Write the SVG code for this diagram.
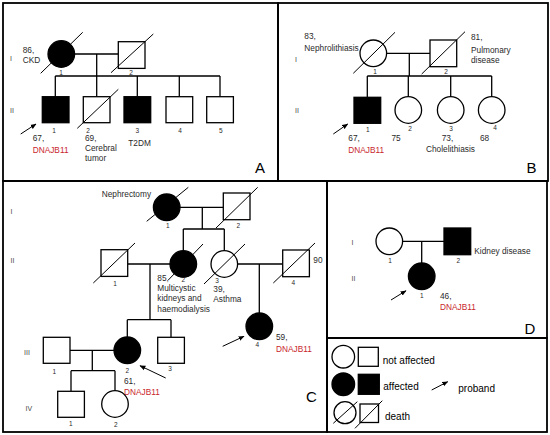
<svg xmlns="http://www.w3.org/2000/svg" width="550" height="435" viewBox="0 0 550 435">
<defs>
<marker id="ah" viewBox="0 0 10 10" refX="9" refY="5" markerWidth="6" markerHeight="6" orient="auto" markerUnits="userSpaceOnUse"><path d="M0,1 L10,5 L0,9 z" fill="#000"/></marker>
<style>
.ln{stroke:#000;stroke-width:1.3;fill:none}
.sym{stroke:#000;stroke-width:1.3;fill:#fff}
.aff{fill:#000}
.sl{stroke:#000;stroke-width:1;fill:none}
.ar{stroke:#000;stroke-width:1;fill:none;marker-end:url(#ah)}
.panel{fill:none;stroke:#000;stroke-width:1.8}
text{font-family:"Liberation Sans",Arial,sans-serif;fill:#2a2a2a}
.t{font-size:8.3px}
.red{fill:#c8262c}
.n{font-size:6.5px;text-anchor:middle}
.g{font-size:7px;fill:#444}
.lbl{font-size:15px;fill:#000}
.leg{font-size:10px;fill:#000}
</style>
</defs>
<rect width="550" height="435" fill="#fff"/>
<g id="panels">
<rect class="panel" x="3" y="3" width="275" height="178"/>
<rect class="panel" x="278" y="3" width="270" height="178"/>
<rect class="panel" x="3" y="181" width="324" height="251"/>
<rect class="panel" x="327" y="181" width="220" height="157"/>
<rect class="panel" x="327" y="338" width="220" height="94"/>
</g>
<g id="connectors">
<path class="ln" d="M74.6,54H118.3 M96.7,54V76 M55.3,76H220 M55.3,76V96.7 M96.7,76V96.7 M137.3,76V96.7 M179.3,76V96.7 M220,76V96.7"/>
<path class="ln" d="M386.6,53.3H430 M409.3,53.3V76 M367.3,76H491.7 M367.3,76V97.3 M408.3,76V96.7 M450.7,76V96.7 M491.7,76V96.7"/>
<path class="ln" d="M180,207.3H223.3 M202.3,207.3V229 M183.3,229H224.3 M183.3,229V250.7 M224.3,229V250.7"/>
<path class="ln" d="M127.7,264H170 M150,264V319.7 M127.3,319.7H171 M127.3,319.7V337 M171,319.7V337.3"/>
<path class="ln" d="M237.6,264H282.7 M259.3,264V313"/>
<path class="ln" d="M70,350.3H114 M92.3,350.3V370.7 M71,370.7H115 M71,370.7V391.3 M115,370.7V390.7"/>
<path class="ln" d="M402.6,241.3H444 M421.7,241.3V263"/>
</g>
<g id="A-labels">
<text class="g" x="10" y="61">I</text>
<text class="g" x="10" y="113">II</text>
<text class="lbl" x="255" y="173">A</text>
</g>
<g id="A-I-1">
<circle class="sym aff" cx="61.3" cy="54" r="13.3"/>
<line class="sl" x1="40.7" y1="73.3" x2="82.7" y2="32.3"/>
<text class="n" x="61" y="75">1</text>
<text class="t" x="22.7" y="52.5">86,</text>
<text class="t" x="22.7" y="63">CKD</text>
</g>
<g id="A-I-2">
<rect class="sym" x="118.3" y="41.7" width="26.7" height="26.7"/>
<line class="sl" x1="111" y1="72.7" x2="153.3" y2="34"/>
<text class="n" x="131" y="75">2</text>
</g>
<g id="A-II-1">
<rect class="sym aff" x="42.3" y="96.7" width="26.7" height="26"/>
<text class="n" x="54" y="133">1</text>
<line class="ar" x1="20.7" y1="134" x2="36" y2="124"/>
<text class="t" x="32.7" y="141">67,</text>
<text class="t red" x="32.7" y="152.7">DNAJB11</text>
</g>
<g id="A-II-2">
<rect class="sym" x="83.3" y="96.7" width="26.7" height="26"/>
<line class="sl" x1="77.3" y1="128.3" x2="118.3" y2="89.3"/>
<text class="n" x="88" y="133">2</text>
<text class="t" x="85" y="141">69,</text>
<text class="t" x="85" y="151">Cerebral</text>
<text class="t" x="85" y="161">tumor</text>
</g>
<g id="A-II-3">
<rect class="sym aff" x="124" y="96.7" width="26.7" height="26"/>
<text class="n" x="137.3" y="133">3</text>
<text class="t" x="128.3" y="146">T2DM</text>
</g>
<g id="A-II-4">
<rect class="sym" x="166" y="96.7" width="26.7" height="26"/>
<text class="n" x="180" y="133">4</text>
</g>
<g id="A-II-5">
<rect class="sym" x="206.7" y="96.7" width="26.7" height="26"/>
<text class="n" x="220.7" y="133">5</text>
</g>
<g id="B-labels">
<text class="g" x="295" y="62">I</text>
<text class="g" x="295" y="113">II</text>
<text class="lbl" x="526.5" y="173">B</text>
</g>
<g id="B-I-1">
<circle class="sym" cx="373.3" cy="53.3" r="13.3"/>
<line class="sl" x1="353.3" y1="73.3" x2="395" y2="32.3"/>
<text class="n" x="375" y="74">1</text>
<text class="t" x="304.3" y="39">83,</text>
<text class="t" x="304.3" y="50.5">Nephrolithiasis</text>
</g>
<g id="B-I-2">
<rect class="sym" x="430" y="40" width="26.7" height="26.7"/>
<line class="sl" x1="421.7" y1="74" x2="465" y2="31.7"/>
<text class="n" x="446" y="74">2</text>
<text class="t" x="471" y="40">81,</text>
<text class="t" x="471" y="52.5">Pulmonary</text>
<text class="t" x="471" y="63">disease</text>
</g>
<g id="B-II-1">
<rect class="sym aff" x="354" y="97.3" width="26.7" height="26"/>
<text class="n" x="367.7" y="131.5">1</text>
<line class="ar" x1="333.3" y1="134" x2="347.7" y2="124"/>
<text class="t" x="348.3" y="141">67,</text>
<text class="t red" x="348.3" y="153">DNAJB11</text>
</g>
<g id="B-II-2">
<circle class="sym" cx="408.3" cy="110" r="13.3"/>
<text class="n" x="410" y="131">2</text>
<text class="t" x="391.5" y="141">75</text>
</g>
<g id="B-II-3">
<circle class="sym" cx="450.7" cy="110" r="13.3"/>
<text class="n" x="451" y="131">3</text>
<text class="t" x="441.7" y="140.5">73,</text>
<text class="t" x="426" y="151.5">Cholelithiasis</text>
</g>
<g id="B-II-4">
<circle class="sym" cx="491.7" cy="110" r="13.3"/>
<text class="n" x="495" y="130">4</text>
<text class="t" x="480" y="141">68</text>
</g>
<g id="C-labels">
<text class="g" x="10.5" y="214">I</text>
<text class="g" x="10.5" y="262.7">II</text>
<text class="g" x="24" y="355">III</text>
<text class="g" x="25.5" y="411">IV</text>
<text class="lbl" x="306" y="402">C</text>
</g>
<g id="C-I-1">
<circle class="sym aff" cx="166.7" cy="207.3" r="13.3"/>
<line class="sl" x1="146.7" y1="221.3" x2="188.3" y2="187.3"/>
<text class="n" x="167.7" y="228">1</text>
<text class="t" x="101.7" y="197.3">Nephrectomy</text>
</g>
<g id="C-I-2">
<rect class="sym" x="223.3" y="193" width="26.7" height="26.7"/>
<line class="sl" x1="216" y1="228" x2="257.7" y2="187.3"/>
<text class="n" x="238.3" y="228">2</text>
</g>
<g id="C-II-1">
<rect class="sym" x="101" y="249.7" width="26.7" height="26.7"/>
<line class="sl" x1="93.3" y1="283" x2="135" y2="243"/>
<text class="n" x="115" y="285.5">1</text>
</g>
<g id="C-II-2">
<circle class="sym aff" cx="183.3" cy="264" r="13.3"/>
<line class="sl" x1="168.3" y1="280" x2="203" y2="244"/>
<text class="n" x="183.3" y="282">2</text>
<text class="t" x="157.3" y="280.5">85,</text>
<text class="t" x="157.3" y="290.5">Multicystic</text>
<text class="t" x="157.3" y="301.3">kidneys and</text>
<text class="t" x="157.3" y="312">haemodialysis</text>
</g>
<g id="C-II-3">
<circle class="sym" cx="224.3" cy="264" r="13.3"/>
<line class="sl" x1="204" y1="284" x2="245" y2="244"/>
<text class="n" x="217" y="283">3</text>
<text class="t" x="213.3" y="291.5">39,</text>
<text class="t" x="213.3" y="302">Asthma</text>
</g>
<g id="C-II-4">
<rect class="sym" x="282.7" y="250" width="26.7" height="26.7"/>
<line class="sl" x1="273.3" y1="283" x2="315" y2="243"/>
<text class="n" x="293.3" y="285">4</text>
<text class="t" x="313.3" y="262.7">90</text>
</g>
<g id="C-III-1">
<rect class="sym" x="43.3" y="337.3" width="26.7" height="26"/>
<text class="n" x="54.3" y="374">1</text>
</g>
<g id="C-III-2">
<circle class="sym aff" cx="127.3" cy="350.3" r="13.3"/>
<text class="n" x="127.3" y="372.5">2</text>
<line class="ar" x1="165.7" y1="378" x2="140" y2="365.7"/>
<text class="t" x="124" y="384">61,</text>
<text class="t red" x="124" y="394.5">DNAJB11</text>
</g>
<g id="C-III-3">
<rect class="sym" x="157.7" y="337.3" width="26.7" height="26"/>
<text class="n" x="170" y="370.5">3</text>
</g>
<g id="C-III-4">
<circle class="sym aff" cx="259.3" cy="326.3" r="13.3"/>
<text class="n" x="257.3" y="347">4</text>
<line class="ar" x1="222.7" y1="346.3" x2="244" y2="336.3"/>
<text class="t" x="276" y="340">59,</text>
<text class="t red" x="276" y="352.3">DNAJB11</text>
</g>
<g id="C-IV-1">
<rect class="sym" x="57.7" y="391.3" width="26.7" height="26"/>
<text class="n" x="70.7" y="425.5">1</text>
</g>
<g id="C-IV-2">
<circle class="sym" cx="115" cy="404" r="13.3"/>
<text class="n" x="115.7" y="427">2</text>
</g>
<g id="D-labels">
<text class="g" x="351.5" y="245">I</text>
<text class="g" x="351.5" y="281">II</text>
<text class="lbl" x="524.5" y="334">D</text>
</g>
<g id="D-I-1">
<circle class="sym" cx="389.3" cy="241.3" r="13.3"/>
<text class="n" x="390" y="263">1</text>
</g>
<g id="D-I-2">
<rect class="sym aff" x="444" y="228" width="26.7" height="26.7"/>
<text class="n" x="458.3" y="263">2</text>
<text class="t" x="474.3" y="253.5">Kidney disease</text>
</g>
<g id="D-II-1">
<circle class="sym aff" cx="421.7" cy="276.3" r="13.3"/>
<text class="n" x="421.7" y="298">1</text>
<line class="ar" x1="391" y1="300" x2="406" y2="290.7"/>
<text class="t" x="440" y="298.5">46,</text>
<text class="t red" x="440" y="310">DNAJB11</text>
</g>
<g id="legend">
<circle class="sym" cx="343.3" cy="356.7" r="11.3"/>
<rect class="sym" x="358.3" y="347.3" width="20" height="19"/>
<text class="leg" x="382.7" y="364">not affected</text>
<circle class="sym aff" cx="343.3" cy="384.3" r="11.3"/>
<rect class="sym aff" x="358.3" y="374.3" width="21" height="20"/>
<text class="leg" x="383.3" y="390">affected</text>
<line class="ar" x1="431.7" y1="390" x2="447.7" y2="381.7"/>
<text class="leg" x="458.3" y="392">proband</text>
<circle class="sym" cx="345" cy="412.7" r="11"/>
<line class="sl" x1="333.3" y1="423.3" x2="357.3" y2="401.7"/>
<rect class="sym" x="360" y="404" width="18.5" height="18.5"/>
<line class="sl" x1="355" y1="428.3" x2="382.3" y2="400.7"/>
<text class="leg" x="385" y="420">death</text>
</g>
</svg>
